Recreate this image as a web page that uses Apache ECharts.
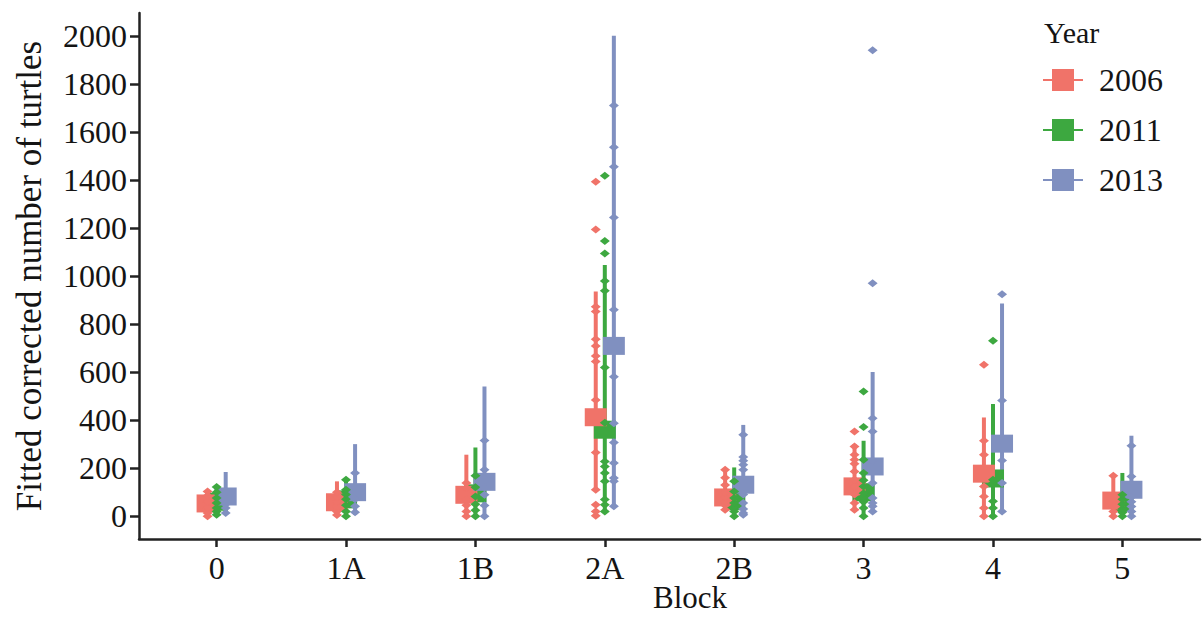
<!DOCTYPE html>
<html><head><meta charset="utf-8">
<script src="https://cdn.jsdelivr.net/npm/echarts@6/dist/echarts.min.js"></script>
<style>html,body{margin:0;padding:0;background:#fff}#c{width:1202px;height:618px}</style>
</head><body><div id="c"></div>
<script>
// ---- data ----
const blocks = ['0', '1A', '1B', '2A', '2B', '3', '4', '5'];
const years = ['2006', '2011', '2013'];
const yTicks = [0, 200, 400, 600, 800, 1000, 1200, 1400, 1600, 1800, 2000];

const mean2006 = [53, 58, 89, 412, 78, 124, 177, 65];
const low2006  = [0, 5, 0, 110, 20, 20, 0, 0];
const high2006 = [100, 145, 256, 935, 199, 300, 411, 173];
const pts2006 = [
  [0, 13, 35, 60, 85, 103],
  [5, 20, 40, 60, 80, 100],
  [0, 20, 45, 70, 117, 138],
  [2, 20, 48, 110, 265, 484, 644, 667, 709, 737, 852, 872, 1194, 1392],
  [27, 45, 60, 80, 100, 130, 160, 193],
  [27, 55, 90, 124, 152, 186, 218, 235, 256, 290, 353],
  [0, 34, 82, 124, 256, 314, 630],
  [0, 20, 40, 168]
];

const mean2011 = [60, 70, 95, 360, 62, 100, 157, 55];
const low2011  = [0, 0, 0, 20, 0, 0, 0, 0];
const high2011 = [121, 159, 286, 1046, 203, 314, 467, 180];
const pts2011 = [
  [6, 20, 34, 55, 76, 100, 121],
  [0, 20, 45, 70, 90, 110, 152],
  [0, 25, 50, 82, 120, 168],
  [20, 48, 69, 145, 180, 207, 228, 389, 619, 939, 979, 1094, 1146, 1417],
  [0, 20, 40, 55, 76, 103, 145],
  [0, 34, 60, 82, 96, 124, 150, 180, 235, 371, 519],
  [0, 34, 62, 138, 152, 730],
  [0, 15, 30, 50, 70, 89]
];

const mean2013 = [82, 100, 143, 709, 131, 207, 302, 110];
const low2013  = [5, 5, 0, 41, 6, 20, 20, 0];
const high2013 = [184, 300, 540, 2000, 380, 600, 886, 335];
const pts2013 = [
  [13, 34, 50],
  [16, 41, 70, 180],
  [0, 44, 89, 120, 193, 315],
  [41, 145, 159, 221, 307, 387, 581, 859, 1244, 1455, 1536, 1710],
  [6, 13, 30, 55, 90, 193, 214, 231, 246, 339],
  [20, 41, 55, 76, 138, 232, 353, 408, 970, 1940],
  [20, 138, 232, 482, 924],
  [0, 20, 40, 60, 80, 165, 293]
];

// ---- styling ----
const colors = { '2006': '#F07369', '2011': '#3DA840', '2013': '#8090C0' };
const offsets = { '2006': -0.07, '2011': 0, '2013': 0.07 };
const FONT = 'Liberation Serif';
const TXT = '#141414';
const AX = '#222';

const groups = {
  '2006': { mean: mean2006, low: low2006, high: high2006, pts: pts2006 },
  '2011': { mean: mean2011, low: low2011, high: high2011, pts: pts2011 },
  '2013': { mean: mean2013, low: low2013, high: high2013, pts: pts2013 }
};
const squareZ = { '2011': 3, '2006': 4, '2013': 5 };

const series = [];
years.forEach(y => {
  const g = groups[y], off = offsets[y], col = colors[y];
  series.push({
    name: y, type: 'custom', z: 2,
    data: blocks.map((b, i) => [i + 1 + off, g.low[i], g.high[i]]),
    encode: { x: 0, y: [1, 2] },
    renderItem: (params, api) => {
      const p1 = api.coord([api.value(0), api.value(1)]);
      const p2 = api.coord([api.value(0), api.value(2)]);
      return { type: 'line', shape: { x1: p1[0], y1: p1[1], x2: p2[0], y2: p2[1] },
               style: { stroke: col, lineWidth: 4 } };
    },
    silent: true
  });
});
years.forEach(y => {
  const g = groups[y], off = offsets[y], col = colors[y];
  series.push({
    name: y, type: 'scatter', z: squareZ[y],
    symbol: 'rect', symbolSize: [22, 18],
    itemStyle: { color: col, opacity: 1 },
    data: blocks.map((b, i) => [i + 1 + off, g.mean[i]]),
    silent: true
  });
});
years.forEach(y => {
  const g = groups[y], off = offsets[y], col = colors[y];
  const d = [];
  g.pts.forEach((arr, i) => arr.forEach(v => d.push([i + 1 + off, v])));
  series.push({
    name: y, type: 'scatter', z: 6,
    symbol: 'diamond', symbolSize: [10, 8],
    itemStyle: { color: col, opacity: 1 },
    data: d,
    silent: true
  });
});

const iconPath = 'path://M0,10 H9 V0 H31 V10 H40 V12 H31 V22 H9 V12 H0 Z';

const chart = echarts.init(document.getElementById('c'), null, { renderer: 'svg' });
chart.setOption({
  animation: false,
  backgroundColor: '#fff',
  grid: { left: 139, right: 2, top: 13, bottom: 79, outerBoundsMode: 'none', containLabel: false },
  title: {
    text: 'Year', left: 1044, top: 17, padding: 0,
    textStyle: { fontFamily: FONT, fontSize: 30, fontWeight: 'normal', color: TXT }
  },
  legend: {
    left: 1043, top: 64, orient: 'vertical', padding: 0,
    itemWidth: 40, itemHeight: 22, itemGap: 18,
    textStyle: { fontFamily: FONT, fontSize: 32, lineHeight: 31, color: TXT, padding: [0, 0, 0, 11] },
    data: years.map(y => ({ name: y, icon: iconPath, itemStyle: { color: colors[y] } })),
    selectedMode: false
  },
  xAxis: {
    type: 'value', min: 0.4, max: 8.6,
    name: 'Block', nameLocation: 'middle', nameGap: 43, nameMoveOverlap: false,
    nameTextStyle: { fontFamily: FONT, fontSize: 31, lineHeight: 31, color: TXT, padding: [0, 0, 0, 41] },
    axisLine: { show: true, onZero: false, lineStyle: { color: AX, width: 2.5 } },
    axisTick: { show: true, length: 8, lineStyle: { color: AX, width: 2.5 }, customValues: blocks.map((b, i) => i + 1) },
    axisLabel: {
      customValues: blocks.map((b, i) => i + 1),
      formatter: v => blocks[Math.round(v) - 1],
      fontFamily: FONT, fontSize: 32, color: TXT, margin: 13
    },
    splitLine: { show: false }
  },
  yAxis: {
    type: 'value', min: -95, max: 2095,
    name: 'Fitted corrected number of turtles', nameLocation: 'middle', nameGap: 92,
    nameTextStyle: { fontFamily: FONT, fontSize: 35, color: TXT },
    axisLine: { show: true, onZero: false, lineStyle: { color: AX, width: 2.5 } },
    axisTick: { show: true, length: 9, lineStyle: { color: AX, width: 2.5 }, customValues: yTicks },
    axisLabel: { customValues: yTicks, formatter: v => String(v), fontFamily: FONT, fontSize: 32, color: TXT, margin: 12 },
    splitLine: { show: false }
  },
  series: series
});
</script>
</body></html>
